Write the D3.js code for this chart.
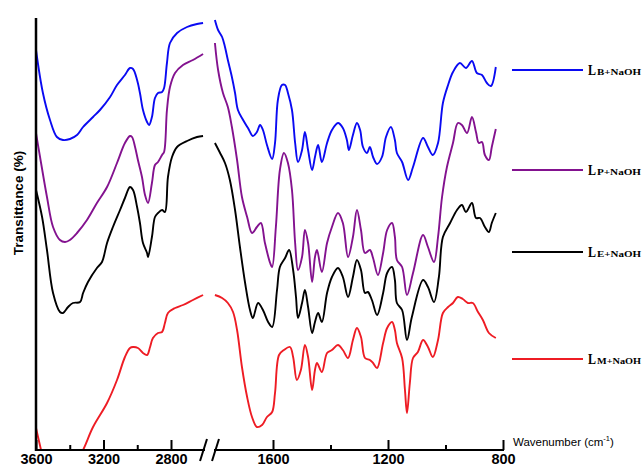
<!DOCTYPE html>
<html><head><meta charset="utf-8">
<script src="https://cdn.jsdelivr.net/npm/d3@7"></script>
<style>body{margin:0;background:#fff}svg{display:block}</style>
</head><body><svg id="c" width="644" height="466"></svg>
<script>
// Wavenumber (cm-1), transmittance (arbitrary, offset spectra)
const lbLeft = [[3600,100],[3559,89.25],[3517,82.5],[3476,78.25],[3440,77.5],[3399,77.75],[3357,78.75],[3321,80.75],[3262,83.25],[3221,85],[3161,88.25],[3120,91.25],[3073,93.75],[3043,95.5],[3025,95.25],[3001,92.5],[2984,89.25],[2966,85],[2942,82],[2930,81.25],[2913,83.25],[2895,88],[2877,89.25],[2853,89.5],[2841,90.5],[2824,96.75],[2806,101.75],[2764,104.25],[2705,105.75],[2646,106.5],[2610,106.75]];
const lbRight = [[1802,107.5],[1791,105],[1777,103.25],[1767,100.75],[1757,97.5],[1743,93.25],[1732,89.25],[1722,85],[1704,82.5],[1687,80.5],[1670,78.5],[1656,79.5],[1645,81.25],[1635,80],[1621,76.25],[1603,72.75],[1593,76.75],[1583,87.5],[1569,91.25],[1558,91.25],[1548,89.25],[1534,85],[1523,76.75],[1513,72],[1499,75],[1489,79.5],[1478,75],[1464,70],[1454,73.25],[1443,76.25],[1430,72],[1412,76.75],[1395,80],[1374,81.75],[1357,80.5],[1343,77.5],[1336,75],[1322,78.75],[1308,81.75],[1297,80],[1287,75.75],[1273,74.25],[1263,75.75],[1252,73.25],[1238,71.5],[1221,73.25],[1207,78.25],[1190,80.75],[1176,77.5],[1169,74.25],[1151,72],[1130,67.5],[1113,70.75],[1078,78],[1061,75.75],[1044,73.75],[1026,76.75],[1009,86.75],[991,91.25],[974,94.5],[950,96.75],[929,95.5],[908,97.25],[891,94.25],[873,93.75],[856,91.75],[842,91],[825,95.75]];

const lpLeft = [[3600,79.25],[3576,73.25],[3535,63.25],[3499,55.75],[3458,52.5],[3428,52],[3399,52.5],[3357,54.25],[3298,57.5],[3239,61.75],[3179,65.75],[3120,71.75],[3073,76.75],[3043,78.5],[3031,78.25],[3013,75.75],[2996,72.5],[2972,68.25],[2954,63.75],[2936,61.75],[2913,66.75],[2895,71.25],[2877,72],[2853,73.75],[2841,74.5],[2824,85],[2806,90.75],[2776,94.25],[2729,96.25],[2670,97.5],[2610,99]];
const lpRight = [[1802,101.75],[1791,95],[1774,89.25],[1757,85.75],[1743,80.75],[1725,72.5],[1708,63.25],[1690,58.25],[1673,54.25],[1656,55.75],[1642,56.75],[1628,51.75],[1610,46.75],[1603,45.75],[1590,55.75],[1576,70],[1562,74.25],[1548,71.75],[1534,65],[1523,51.75],[1513,45],[1499,48.25],[1489,55],[1478,51.75],[1464,42],[1454,48.25],[1447,50],[1430,44.5],[1412,51.75],[1395,55.75],[1374,59.25],[1357,56.75],[1339,48.25],[1322,53.25],[1308,60],[1294,55],[1280,49.25],[1263,50],[1252,48],[1235,43.75],[1217,49.25],[1203,55],[1186,56.75],[1176,53.25],[1169,47.5],[1151,45.75],[1134,38.75],[1113,44.25],[1078,53.75],[1061,50.75],[1040,47],[1026,53.25],[1012,63.25],[995,70.75],[974,76.75],[957,81.75],[943,81.25],[925,79.25],[908,83.25],[894,79.5],[884,76.75],[873,77],[863,73.75],[849,72.5],[839,75.75],[825,80.25]];

const leLeft = [[3600,65],[3564,58.25],[3535,50],[3499,39.25],[3458,34.5],[3440,34.25],[3410,35.75],[3381,36.75],[3339,37],[3321,39.25],[3292,42],[3239,45.5],[3209,47],[3179,51.75],[3144,55.75],[3102,60],[3073,63],[3043,65.75],[3025,65],[3001,60.75],[2984,56.75],[2966,51.75],[2942,49.25],[2936,48.25],[2913,53.25],[2895,58.25],[2877,59.25],[2853,60],[2836,59.5],[2818,68.25],[2794,73.25],[2764,75.75],[2705,77.25],[2646,78.25],[2610,78.5]];
const leRight = [[1802,76.75],[1784,74.25],[1767,71.75],[1750,67.5],[1732,60],[1715,50.75],[1697,41.75],[1680,35],[1670,33],[1652,36.75],[1635,35],[1617,32],[1603,30.75],[1586,40],[1576,45.75],[1558,48],[1544,50],[1530,45],[1520,38.25],[1513,33],[1499,36.75],[1489,40],[1478,35.75],[1464,29.25],[1454,32],[1443,34.25],[1430,32],[1412,39.25],[1395,43.25],[1374,45.5],[1357,43.25],[1339,38.25],[1322,43.25],[1308,47.5],[1294,45],[1280,39.25],[1270,39.5],[1256,37.5],[1238,33.75],[1217,39.25],[1203,44.25],[1186,45.75],[1176,42.5],[1169,36.75],[1151,35],[1134,27.5],[1117,33.25],[1078,42.5],[1061,40.75],[1040,37],[1023,43.25],[1009,53.25],[984,56.75],[960,60],[943,61.25],[929,59.5],[908,61.75],[894,58],[880,58],[863,55.75],[849,54.5],[839,56.75],[825,59.25]];

const lmLeft = [[3600,5.5],[3570,0],[3547,-3.75],[3487,-7.5],[3399,-6.25],[3321,0],[3262,5.75],[3179,11.75],[3120,17.5],[3073,23.25],[3043,25.5],[3025,25.75],[2996,25.5],[2966,24.25],[2942,23.75],[2924,25.75],[2907,28],[2877,29.25],[2853,29.5],[2836,31.75],[2818,34.25],[2776,35.5],[2729,36.25],[2670,37.5],[2610,38.75]];
const lmRight = [[1802,38.75],[1777,38],[1757,36.75],[1739,34.5],[1725,30],[1708,20.75],[1690,13.25],[1673,8.25],[1656,5.75],[1638,6.25],[1621,8.25],[1603,9.5],[1593,14.25],[1579,23.75],[1562,25],[1541,25.75],[1530,23.25],[1517,17.5],[1503,20],[1489,26.25],[1478,23.25],[1464,15],[1454,20],[1447,21.75],[1430,19.5],[1412,24.25],[1395,25],[1374,26.25],[1357,25],[1339,23],[1322,27.5],[1308,30.5],[1294,28.25],[1280,23],[1263,22.5],[1252,21.75],[1238,20.5],[1217,26.75],[1203,30.5],[1186,32],[1176,30],[1169,26.75],[1151,23],[1141,15],[1134,9.25],[1124,16.75],[1113,23],[1096,24.5],[1078,27.5],[1061,25.75],[1044,23.25],[1026,27.5],[1009,34.25],[991,35.75],[974,36.75],[957,38.25],[940,37.75],[922,36.75],[905,36.75],[887,34.5],[870,32.5],[849,29.25],[825,28]];

const seriesNames = ["B+NaOH","P+NaOH","E+NaOH","M+NaOH"];
const seriesColors = ["#0a0af2","#83128f","#000000","#ee1c24"];
const seriesData = [[lbLeft,lbRight],[lpLeft,lpRight],[leLeft,leRight],[lmLeft,lmRight]];
const legendT = [95,70,49.5,22.75];
const leftTicks = [3600,3200,2800], leftMinor = [3400,3000];
const rightTicks = [1600,1200,800], rightMinor = [1400,1000];

const svg = d3.select("#c");
const xL = d3.scaleLinear().domain([3600,2800]).range([36,171]);
const xR = d3.scaleLinear().domain([1600,800]).range([273,503]);
const y = d3.scaleLinear().domain([0,108]).range([450,18]);
const bottom = 450;

svg.append("defs").append("clipPath").attr("id","clip")
  .append("rect").attr("x",37).attr("y",0).attr("width",470).attr("height",bottom-1);

const g = svg.append("g").attr("clip-path","url(#clip)");
seriesData.forEach((pair,i)=>{
  [xL,xR].forEach((xs,k)=>{
    const line = d3.line().x(d=>xs(d[0])).y(d=>y(d[1])).curve(d3.curveCatmullRom.alpha(0.5));
    g.append("path").datum(pair[k]).attr("d",line).attr("fill","none")
      .attr("stroke",seriesColors[i]).attr("stroke-width",1.9).attr("stroke-linejoin","round");
  });
});

// axes
function drawAxis(xs, major, minor, x0, x1){
  const a = svg.append("g").attr("transform",`translate(0,${bottom})`);
  a.call(d3.axisBottom(xs).tickValues(major).tickSizeInner(-10).tickSizeOuter(0).tickPadding(14).tickFormat(d3.format("d")));
  a.select(".domain").remove();
  a.append("line").attr("x1",x0).attr("x2",x1).attr("y1",0).attr("y2",0).attr("stroke","#000").attr("stroke-width",2);
  a.selectAll(".tick line").attr("stroke","#000").attr("stroke-width",2);
  a.selectAll(".tick text").attr("fill","#000").attr("font-family","Arial, 'Liberation Sans', sans-serif")
    .attr("font-weight","bold").attr("font-size",14.5).attr("dy","0");
  const m = svg.append("g").attr("transform",`translate(0,${bottom})`);
  m.call(d3.axisBottom(xs).tickValues(minor).tickSizeInner(-5).tickSizeOuter(0).tickFormat(""));
  m.select(".domain").remove();
  m.selectAll(".tick line").attr("stroke","#000").attr("stroke-width",2);
}
drawAxis(xL, leftTicks, leftMinor, 35, 205);
drawAxis(xR, rightTicks, rightMinor, 214, 504);
// break marks
[[200,207],[212,219]].forEach(([a,b])=>{
  svg.append("line").attr("x1",a).attr("y1",461).attr("x2",b).attr("y2",439).attr("stroke","#000").attr("stroke-width",2);
});
// y spine
svg.append("line").attr("x1",36).attr("x2",36).attr("y1",18).attr("y2",bottom+1).attr("stroke","#000").attr("stroke-width",2.5);

// axis titles
const xt = svg.append("text").attr("x",513).attr("y",446).attr("font-family","Arial, 'Liberation Sans', sans-serif")
  .attr("font-size",11.5).attr("fill","#000");
xt.append("tspan").text("Wavenumber (cm");
xt.append("tspan").attr("font-size",7.5).attr("dy",-5).text("-1");
xt.append("tspan").attr("dy",5).text(")");
svg.append("text").attr("transform","translate(23,203) rotate(-90)").attr("text-anchor","middle")
  .attr("font-family","Arial, 'Liberation Sans', sans-serif").attr("font-weight","bold").attr("font-size",13.5)
  .attr("fill","#000").text("Transittance (%)");

// legend
seriesNames.forEach((nm,i)=>{
  const yy = y(legendT[i]);
  svg.append("line").attr("x1",512).attr("x2",583).attr("y1",yy).attr("y2",yy)
    .attr("stroke",seriesColors[i]).attr("stroke-width",2);
  const fam = "'Liberation Serif', 'DejaVu Serif', serif";
  svg.append("text").attr("x",588).attr("y",yy+5).attr("fill","#000").attr("font-family",fam)
    .attr("font-weight","bold").attr("font-size",15).attr("textLength",8).attr("lengthAdjust","spacingAndGlyphs").text("L");
  svg.append("text").attr("x",597).attr("y",yy+5).attr("fill","#000").attr("font-family",fam)
    .attr("font-weight","bold").attr("font-size",9).attr("textLength",44).attr("lengthAdjust","spacingAndGlyphs").text(nm);
});
</script></body></html>
